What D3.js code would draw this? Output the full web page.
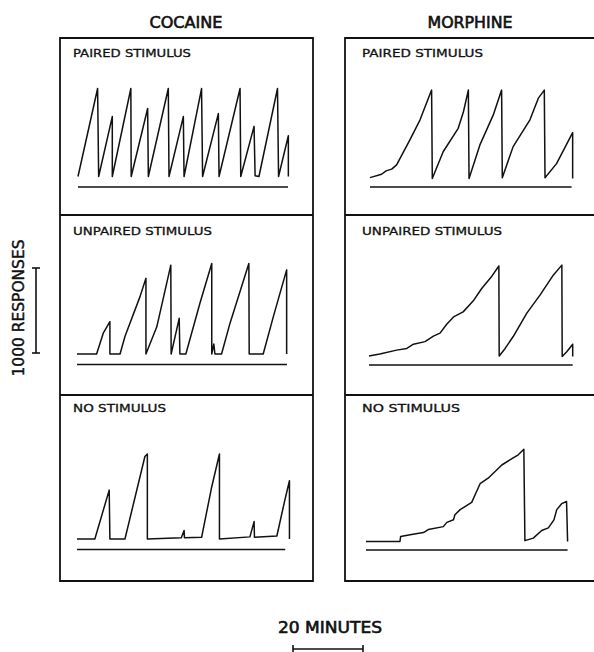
<!DOCTYPE html>
<html>
<head>
<meta charset="utf-8">
<script src="https://cdn.jsdelivr.net/npm/d3@7"></script>
<style>
    body { margin: 0; background: #fff; }
    svg text { font-family: "DejaVu Sans", sans-serif; fill: #111; stroke: #111; }
</style>
</head>
<body>
<svg id="records"></svg>
<script>
// cumulative records: [minutes, responses since last reset]
const drugs = ["COCAINE", "MORPHINE"];
const conditions = ["PAIRED STIMULUS", "UNPAIRED STIMULUS", "NO STIMULUS"];

const cocainePaired = [[0, 0], [5.6, 1035], [5.9, 0], [9.8, 705], [9.8, 0], [15.1, 1035], [15.2, 0],
    [19.9, 800], [20.1, 0], [25.8, 1035], [26.0, 0], [30.1, 705], [30.3, 0], [35.3, 1035], [35.6, 0],
    [40.1, 740], [40.3, 0], [46.3, 1035], [46.5, 0], [50.3, 590], [50.6, 10], [51.7, 0], [57.0, 1035],
    [57.3, 0], [60.1, 480], [60.1, 0]];
const cocaineUnpaired = [[0, 0], [5.6, 0], [7.5, 245], [9.4, 380], [9.4, 0], [12.3, 0], [13.7, 205],
    [18.0, 675], [19.7, 890], [19.7, 0], [22.8, 320], [26.8, 1045], [26.9, 0], [29.2, 420], [29.4, 0],
    [31.1, 0], [35.1, 595], [38.5, 1065], [38.5, 0], [39.1, 118], [39.4, 0], [41.3, 0], [43.7, 360],
    [49.1, 1065], [49.2, 0], [53.2, 0], [56.1, 440], [59.9, 990], [59.9, 0]];
const cocaineNone = [[0, 0], [5.1, 0], [9.2, 575], [9.4, 0], [13.7, 0], [19.4, 970], [20.1, 1000],
    [20.1, 0], [29.8, 15], [30.6, 100], [30.7, 15], [35.6, 20], [38.5, 615], [40.7, 1000], [40.7, 0],
    [49.4, 25], [50.6, 205], [50.7, 20], [57.1, 35], [59.4, 460], [60.7, 685], [60.7, 0]];

const morphinePaired = [[0, 10], [3.3, 50], [4.6, 90], [6.2, 110], [7.6, 160], [11.4, 455], [14.3, 690],
    [17.6, 1040], [17.8, 0], [20.9, 315], [25.2, 590], [26.7, 785], [28.1, 1040], [28.3, 0], [31.4, 395],
    [35.2, 745], [37.6, 1040], [37.8, 10], [40.9, 375], [45.7, 690], [48.1, 945], [49.8, 1040], [50.0, 10],
    [53.3, 175], [57.9, 540], [57.9, 0]];
const morphineUnpaired = [[0, 5], [3.1, 30], [7.9, 75], [10.8, 95], [12.7, 145], [16.0, 175], [18.4, 240],
    [20.3, 275], [22.2, 380], [24.3, 470], [26.9, 525], [29.8, 655], [32.2, 800], [35.1, 945], [37.1, 1065],
    [37.2, 5], [38.9, 95], [41.2, 235], [45.1, 510], [48.9, 725], [52.7, 960], [55.1, 1075], [55.2, 0],
    [56.5, 55], [58.2, 145], [58.2, 0]];
const morphineNone = [[0, 0], [9.7, 0], [9.9, 60], [12.6, 80], [16.4, 105], [17.8, 140], [22.1, 175],
    [23.1, 225], [25.0, 255], [25.4, 315], [26.9, 375], [30.2, 460], [31.4, 570], [32.6, 680], [34.9, 745],
    [38.8, 900], [41.1, 960], [43.5, 1020], [45.1, 1085], [45.4, 10], [47.8, 40], [50.2, 130], [52.1, 160],
    [53.7, 255], [54.5, 375], [55.9, 445], [57.3, 470], [57.6, 0]];

// session length (minutes) drawn as the line under each record
const cocaineSessions = [60, 60, 59.5];
const morphineSessions = [57.6, 58.2, 57.6];

const scaleMinutes = 20;
const scaleResponses = 1000;

const records = [
    [cocainePaired, cocaineUnpaired, cocaineNone],
    [morphinePaired, morphineUnpaired, morphineNone]
];
const sessions = [cocaineSessions, morphineSessions];

const width = 594, height = 652;
const pxPerMin = 3.5, pxPer1000 = 85;

// layout
const rows = [{ top: 38, bottom: 215 }, { top: 215, bottom: 395 }, { top: 395, bottom: 581 }];
const cols = [
    { left: 60, right: 313, x0: [78, 77, 77], zero: [176.5, 354, 539], under: 10.5, labelX: 13, titleX: 186, titleW: 73 },
    { left: 345, right: 600, x0: [370, 369, 366], zero: [178.5, 356.5, 541.5], under: 8.5, labelX: 17, titleX: 470, titleW: 85 }
];
const labelW = [[118, 139, 93], [121, 140, 98]];
const labelDy = [19, 19.7, 16.7];

const svg = d3.select("#records")
    .attr("width", width)
    .attr("height", height);

const g = svg.append("g");

cols.forEach((col, c) => {
    // column title
    g.append("text")
        .attr("x", col.titleX)
        .attr("y", 28)
        .attr("text-anchor", "middle")
        .attr("font-size", 15)
        .attr("stroke-width", 0.6)
        .attr("textLength", col.titleW)
        .attr("lengthAdjust", "spacingAndGlyphs")
        .text(drugs[c]);

    // frame
    const frame = g.append("g")
        .attr("stroke", "#111")
        .attr("stroke-width", 1.8)
        .attr("fill", "none");
    frame.append("path")
        .attr("d", c === 0
            ? `M${col.left},${rows[0].top}H${col.right}V${rows[2].bottom}H${col.left}Z`
            : `M${col.right},${rows[0].top}H${col.left}V${rows[2].bottom}H${col.right}`);
    frame.selectAll("line.divider")
        .data(rows.slice(1))
        .join("line")
        .attr("class", "divider")
        .attr("x1", col.left)
        .attr("x2", col.right)
        .attr("y1", d => d.top)
        .attr("y2", d => d.top);

    rows.forEach((row, r) => {
        const x = d3.scaleLinear()
            .domain([0, 60])
            .range([col.x0[r], col.x0[r] + 60 * pxPerMin]);
        const y = d3.scaleLinear()
            .domain([0, 1000])
            .range([col.zero[r], col.zero[r] - pxPer1000]);

        g.append("text")
            .attr("x", col.left + col.labelX)
            .attr("y", row.top + labelDy[r])
            .attr("font-size", 11)
            .attr("stroke-width", 0.3)
            .attr("textLength", labelW[c][r])
            .attr("lengthAdjust", "spacingAndGlyphs")
            .text(conditions[r]);

        g.append("path")
            .datum(records[c][r])
            .attr("fill", "none")
            .attr("stroke", "#111")
            .attr("stroke-width", 1.5)
            .attr("stroke-linejoin", "round")
            .attr("d", d3.line()
                .x(d => x(d[0]))
                .y(d => y(d[1])));

        g.append("line")
            .attr("x1", x(0))
            .attr("x2", x(sessions[c][r]))
            .attr("y1", y(0) + col.under)
            .attr("y2", y(0) + col.under)
            .attr("stroke", "#111")
            .attr("stroke-width", 1.6);
    });
});

// calibration bars
const xCal = d3.scaleLinear().domain([0, scaleMinutes]).range([293, 293 + scaleMinutes * pxPerMin]);
const yCal = d3.scaleLinear().domain([0, scaleResponses]).range([353, 353 - pxPer1000]);

const cal = g.append("g")
    .attr("stroke", "#111")
    .attr("stroke-width", 1.6);
cal.append("line")
    .attr("x1", xCal(0)).attr("x2", xCal(scaleMinutes))
    .attr("y1", 649).attr("y2", 649);
cal.selectAll("line.tickx")
    .data([0, scaleMinutes])
    .join("line")
    .attr("class", "tickx")
    .attr("x1", d => xCal(d)).attr("x2", d => xCal(d))
    .attr("y1", 645).attr("y2", 652);
cal.append("line")
    .attr("x1", 36).attr("x2", 36)
    .attr("y1", yCal(0)).attr("y2", yCal(scaleResponses));
cal.selectAll("line.ticky")
    .data([0, scaleResponses])
    .join("line")
    .attr("class", "ticky")
    .attr("x1", 32).attr("x2", 40)
    .attr("y1", d => yCal(d)).attr("y2", d => yCal(d));

g.append("text")
    .attr("x", 330)
    .attr("y", 633)
    .attr("text-anchor", "middle")
    .attr("font-size", 15)
    .attr("stroke-width", 0.6)
    .attr("textLength", 104)
    .attr("lengthAdjust", "spacingAndGlyphs")
    .text(`${scaleMinutes} MINUTES`);

g.append("text")
    .attr("transform", "translate(24,308) rotate(-90)")
    .attr("text-anchor", "middle")
    .attr("font-size", 15)
    .attr("stroke-width", 0.4)
    .attr("textLength", 137)
    .attr("lengthAdjust", "spacingAndGlyphs")
    .text(`${scaleResponses} RESPONSES`);
</script>
</body>
</html>
